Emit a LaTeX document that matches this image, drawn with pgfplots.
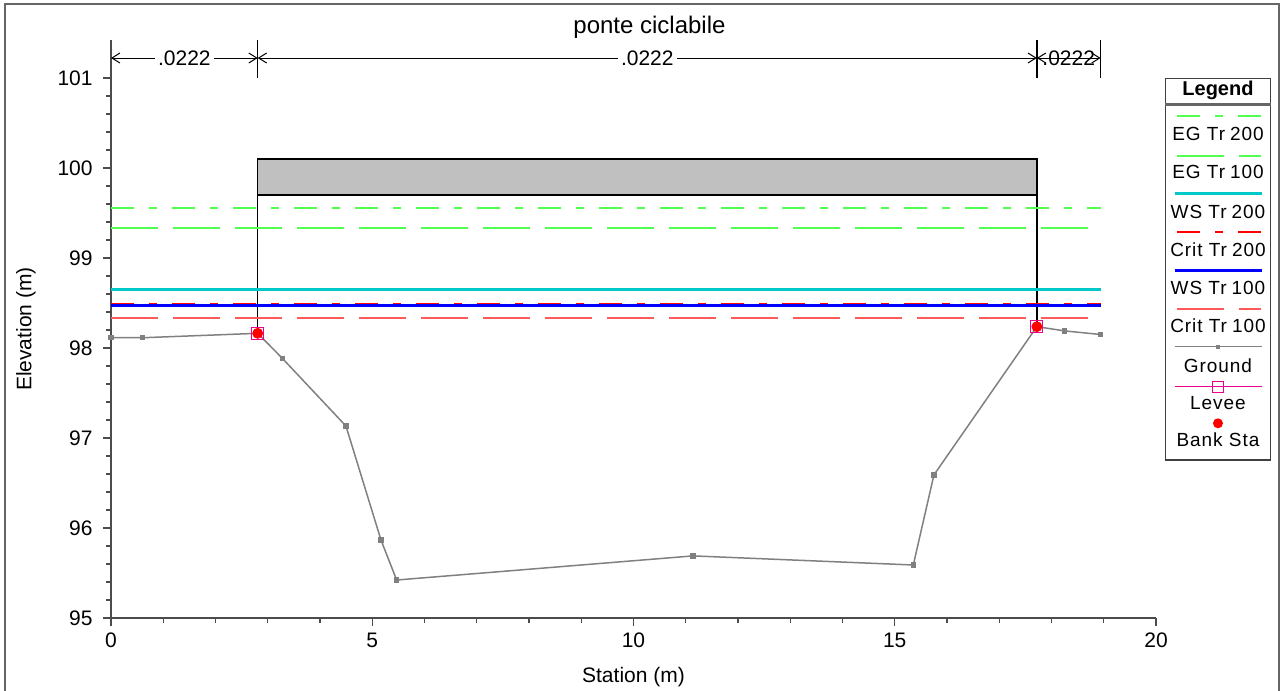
\documentclass[border=0pt]{standalone}
\usepackage{pgfplots}
\pgfplotsset{compat=1.18}
\usepackage{fontspec}
\setmainfont{Liberation Sans}
\newfontfamily\legfont[LetterSpace=5]{Liberation Sans}
\usetikzlibrary{arrows.meta}

\definecolor{egcol}{RGB}{80,255,80}
\definecolor{wscyan}{RGB}{0,200,200}
\definecolor{critlt}{RGB}{255,90,90}
\definecolor{gndgray}{RGB}{128,128,128}
\definecolor{deckgray}{RGB}{192,192,192}

\newcommand\ticfont{\fontsize{10.5bp}{12bp}\selectfont}
\newcommand\trsp{\hspace{2.5bp}}
\tikzset{
  dashdot/.style={dash pattern=on 11.5bp off 7.5bp on 4bp off 7.5bp},
  longdash/.style={dash pattern=on 23.3bp off 7.7bp},
  barb/.style={line width=0.5bp,{Straight Barb[length=4bp,width=5bp]}-{Straight Barb[length=4bp,width=5bp]}},
  px/.style={x=0.5bp,y=-0.5bp,shift={(-111,-618)}},
}

\begin{document}
\begin{tikzpicture}
\useasboundingbox (-55.5bp,-36.5bp) rectangle (584.5bp,309bp);
\begin{axis}[
  at={(0,0)}, anchor=south west,
  scale only axis, width=522.5bp, height=289bp,
  xmin=0, xmax=20, ymin=95, ymax=101.4222,
  axis x line=bottom, axis y line=left,
  axis line style={-, draw=black!70, line width=0.75bp},
  xtick={0,5,...,20}, ytick={95,...,101},
  minor x tick num=4, minor y tick num=4,
  tick align=outside,
  major tick length=4bp, minor tick length=2.5bp,
  tick style={black!70, line width=0.6bp},
  tick label style={font=\ticfont},
  /pgf/number format/assume math mode=true,
  xticklabel style={anchor=north, inner sep=0pt, yshift=-3.2bp},
  yticklabel style={anchor=east, inner sep=0pt, xshift=-5bp},
  clip=false,
]
% bridge deck and abutments
\addplot[fill=deckgray, draw=black, line width=0.75bp] coordinates {
  (2.808,99.7) (17.72,99.7) (17.72,100.1) (2.808,100.1)} -- cycle;
\addplot[black, line width=0.75bp] coordinates {(2.808,99.7) (2.808,98.163)};
\addplot[black, line width=0.75bp] coordinates {(17.72,99.7) (17.72,98.237)};
% water surfaces
\addplot[egcol, line width=0.9bp, dashdot] coordinates {(0,99.556) (18.94,99.556)};
\addplot[egcol, line width=0.9bp, longdash] coordinates {(0,99.333) (18.94,99.333)};
\addplot[wscyan, line width=1.5bp] coordinates {(0,98.652) (18.94,98.652)};
\addplot[red, line width=0.9bp, dashdot] coordinates {(0,98.492) (18.94,98.492)};
\addplot[blue, line width=1.5bp] coordinates {(0,98.470) (18.94,98.470)};
\addplot[critlt, line width=0.9bp, longdash] coordinates {(0,98.333) (18.94,98.333)};
% ground
\addplot[gndgray, line width=0.75bp, mark=square*, mark size=1bp,
  mark options={fill=gndgray, draw=gndgray}] coordinates {
  (0,98.114) (0.606,98.114) (2.808,98.163) (3.286,97.881) (4.497,97.133)
  (5.167,95.867) (5.467,95.422) (11.14,95.69) (15.355,95.589) (15.75,96.59)
  (17.72,98.237) (18.25,98.19) (18.94,98.15)};
% levee
\addplot[only marks, mark=square, mark size=3bp, magenta, mark options={line width=0.6bp}]
  coordinates {(2.808,98.163) (17.72,98.237)};
% bank stations
\addplot[only marks, mark=*, mark size=2.5bp, red] coordinates {(2.808,98.163) (17.72,98.237)};
% Manning n annotations
\draw[line width=0.75bp] (axis cs:2.808,101) -- (axis cs:2.808,101.4222);
\draw[line width=0.75bp] (axis cs:17.72,101) -- (axis cs:17.72,101.4222);
\draw[line width=0.75bp] (axis cs:18.94,101) -- (axis cs:18.94,101.4222);
\draw[barb] (axis cs:0,101.222) -- (axis cs:2.808,101.222)
  node[midway, fill=white, inner sep=1.5bp, font=\ticfont] {.0222};
\draw[barb] (axis cs:2.808,101.222) -- (axis cs:17.72,101.222)
  node[midway, fill=white, inner sep=1.5bp, font=\ticfont] {.0222};
\draw[barb] (axis cs:17.72,101.222) -- (axis cs:18.94,101.222)
  node[midway, inner sep=0pt, font=\ticfont] {.0222};
\end{axis}
\begin{scope}[px]
\draw[black!60, line width=1bp] (5,691) -- (5,4) -- (1279,4) -- (1279,691);
\node[font=\fontsize{12bp}{14bp}\selectfont] at (649.5,27) {ponte ciclabile};
\node[font=\ticfont] at (633.5,677.5) {Station (m)};
\node[font=\ticfont, rotate=90] at (26,329) {Elevation (m)};
% legend
\draw[black!75, line width=0.6bp] (1165.5,78.5) rectangle (1270.5,460);
\draw[black!60, line width=1.2bp] (1165.5,104.5) -- (1271,104.5);
\node[font=\fontsize{10bp}{12bp}\selectfont\bfseries] at (1218,90) {Legend};
\draw[egcol, line width=0.9bp, dashdot] (1177,116) -- (1261,116);
\draw[egcol, line width=0.9bp, longdash] (1177,156) -- (1261,156);
\draw[wscyan, line width=1.5bp] (1175,193.3) -- (1262,193.3);
\draw[red, line width=0.9bp, dashdot] (1177,232) -- (1261,232);
\draw[blue, line width=1.5bp] (1175,270.7) -- (1262,270.7);
\draw[critlt, line width=0.9bp, longdash] (1177,309) -- (1261,309);
\draw[gndgray, line width=0.75bp] (1175,346.7) -- (1262,346.7);
\fill[gndgray] (1216,344.7) rectangle (1220,348.7);
\draw[magenta, line width=0.75bp] (1175,386.7) -- (1262,386.7);
\draw[magenta, line width=0.6bp] (1212.5,381.2) rectangle (1223.5,392.2);
\fill[red] (1218,423.3) circle[radius=2.5bp];
\begin{scope}[every node/.style={font=\legfont\fontsize{9.5bp}{11bp}\selectfont}]
\node at (1218,134) {EG Tr\trsp200};
\node at (1218,171.7) {EG Tr\trsp100};
\node at (1218,211.7) {WS Tr\trsp200};
\node at (1218,250) {Crit Tr\trsp200};
\node at (1218,288.3) {WS Tr\trsp100};
\node at (1218,326) {Crit Tr\trsp100};
\node at (1218,365.7) {Ground};
\node at (1218,403.3) {Levee};
\node at (1218,440) {Bank Sta};
\end{scope}
\end{scope}
\end{tikzpicture}
\end{document}
